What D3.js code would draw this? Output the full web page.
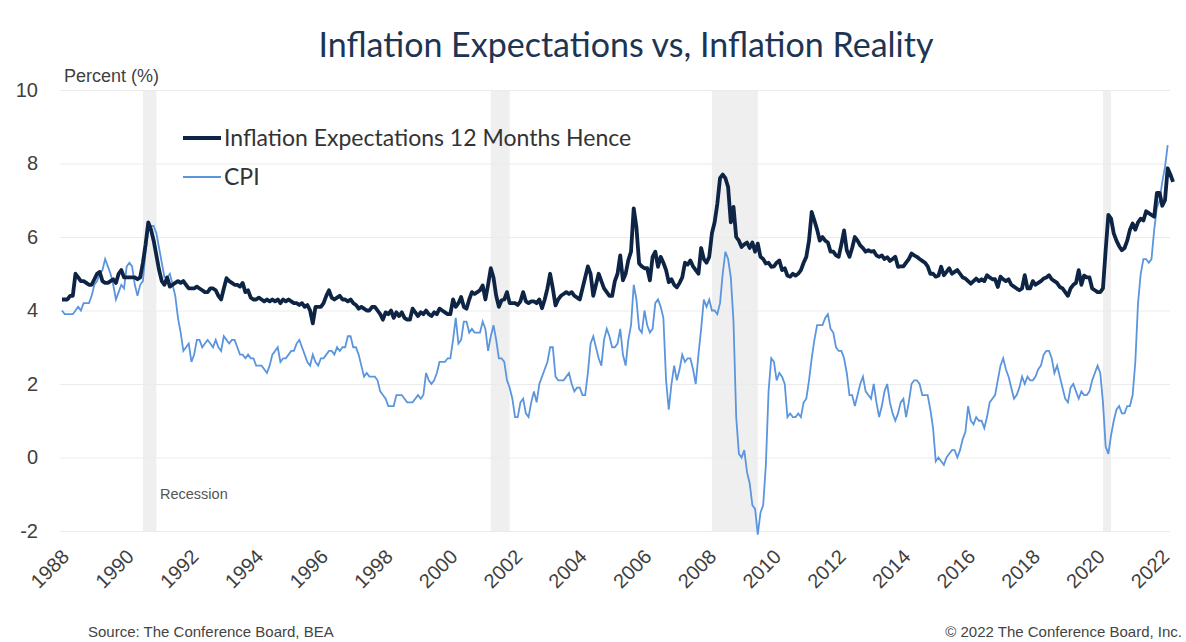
<!DOCTYPE html>
<html>
<head>
<meta charset="utf-8">
<script src="https://cdn.jsdelivr.net/npm/d3@7"></script>
<style>
  body { margin: 0; background: #fff; }
  svg { display: block; }
</style>
</head>
<body>
<svg id="main" width="1186" height="642"></svg>
<script>
// monthly series, first value = January 1988
const startYear = 1988;

const expectations = [
  4.3, 4.3, 4.3, 4.4, 4.4, 5.0, 4.9, 4.8, 4.8, 4.75, 4.7, 4.7,     // 1988
  4.85, 5.0, 5.05, 4.8, 4.75, 4.75, 4.8, 4.85, 4.75, 5.0, 5.1, 4.9, // 1989
  4.9, 4.9, 4.9, 4.9, 4.85, 4.9, 5.3, 5.8, 6.4, 6.2, 5.9, 5.5,      // 1990
  5.1, 4.8, 4.7, 4.9, 4.65, 4.7, 4.75, 4.8, 4.75, 4.8, 4.7, 4.6,    // 1991
  4.6, 4.6, 4.65, 4.6, 4.55, 4.5, 4.5, 4.6, 4.6, 4.55, 4.4, 4.3,    // 1992
  4.6, 4.88, 4.8, 4.75, 4.7, 4.7, 4.65, 4.75, 4.5, 4.55, 4.35, 4.3, // 1993
  4.3, 4.35, 4.3, 4.25, 4.3, 4.25, 4.3, 4.25, 4.3, 4.2, 4.3, 4.25,  // 1994
  4.3, 4.25, 4.2, 4.2, 4.15, 4.2, 4.1, 4.15, 4.0, 3.65, 4.1, 4.1,   // 1995
  4.1, 4.2, 4.4, 4.55, 4.35, 4.3, 4.35, 4.4, 4.3, 4.3, 4.25, 4.3,   // 1996
  4.2, 4.15, 4.05, 4.1, 4.05, 4.0, 4.0, 4.1, 4.1, 4.0, 3.9, 3.75,   // 1997
  3.95, 3.9, 4.0, 3.8, 3.95, 3.85, 3.95, 3.8, 3.75, 3.75, 4.05, 3.95, // 1998
  3.85, 3.95, 3.9, 4.0, 3.9, 3.85, 3.95, 3.9, 4.05, 4.0, 3.95, 3.9, // 1999
  3.9, 4.3, 4.1, 4.2, 4.37, 4.1, 4.05, 4.3, 4.5, 4.45, 4.5, 4.55,   // 2000
  4.68, 4.3, 4.7, 5.15, 4.9, 4.4, 4.1, 4.28, 4.3, 4.5, 4.2, 4.2,    // 2001
  4.2, 4.15, 4.25, 4.5, 4.25, 4.2, 4.25, 4.25, 4.2, 4.3, 4.06, 4.3, // 2002
  4.6, 5.0, 4.6, 4.14, 4.3, 4.4, 4.45, 4.5, 4.45, 4.5, 4.4, 4.35,   // 2003
  4.3, 4.6, 4.9, 5.2, 5.0, 4.4, 4.7, 5.0, 4.8, 4.6, 4.5, 4.4,       // 2004
  4.4, 4.8, 5.0, 5.5, 4.82, 5.0, 5.37, 5.6, 6.78, 6.27, 5.28, 5.2,  // 2005
  5.15, 5.15, 4.82, 5.46, 5.6, 5.19, 5.46, 5.3, 5.1, 4.77, 4.85, 4.7, // 2006
  4.63, 4.75, 4.9, 5.3, 5.25, 5.36, 5.2, 5.1, 5.0, 5.7, 5.4, 5.3,   // 2007
  5.46, 6.1, 6.4, 6.9, 7.6, 7.7, 7.6, 7.36, 6.4, 6.82, 6.0, 5.9,    // 2008
  5.73, 5.8, 5.85, 5.7, 5.85, 5.6, 5.82, 5.46, 5.4, 5.28, 5.3, 5.19, // 2009
  5.2, 5.3, 5.36, 5.1, 5.15, 4.95, 4.92, 5.0, 4.95, 5.0, 5.1, 5.3,  // 2010
  5.46, 5.9, 6.68, 6.45, 6.2, 5.9, 6.0, 5.9, 5.85, 5.6, 5.6, 5.5,   // 2011
  5.46, 5.8, 6.18, 5.64, 5.46, 5.7, 6.0, 5.9, 5.77, 5.7, 5.6, 5.64, // 2012
  5.6, 5.62, 5.5, 5.46, 5.5, 5.4, 5.45, 5.35, 5.4, 5.46, 5.19, 5.2, // 2013
  5.2, 5.3, 5.4, 5.55, 5.5, 5.46, 5.4, 5.35, 5.3, 5.2, 5.0, 5.0,    // 2014
  4.92, 4.95, 5.19, 4.96, 5.05, 5.15, 5.0, 5.05, 5.1, 5.0, 4.9, 4.87, // 2015
  4.8, 4.73, 4.8, 4.87, 4.8, 4.85, 4.8, 4.96, 4.9, 4.85, 4.85, 4.64, // 2016
  4.92, 4.85, 4.8, 4.85, 4.7, 4.65, 4.6, 4.55, 4.6, 4.96, 4.6, 4.6, // 2017
  4.8, 4.7, 4.75, 4.8, 4.87, 4.9, 4.96, 4.85, 4.8, 4.75, 4.64, 4.6, // 2018
  4.5, 4.4, 4.6, 4.7, 4.75, 5.1, 4.7, 4.95, 4.9, 4.9, 4.6, 4.55,    // 2019
  4.5, 4.5, 4.6, 5.64, 6.6, 6.5, 6.1, 5.9, 5.75, 5.64, 5.7, 5.9,    // 2020
  6.2, 6.37, 6.2, 6.4, 6.5, 6.45, 6.7, 6.65, 6.6, 6.55, 7.2, 7.2,   // 2021
  6.85, 7.0, 7.87, 7.7, 7.5                                         // 2022
];

const cpi = [
  4.0, 3.9, 3.9, 3.9, 3.9, 4.0, 4.1, 4.0, 4.2, 4.2, 4.2, 4.4, // 1988
  4.7, 4.8, 5.0, 5.1, 5.4, 5.2, 5.0, 4.7, 4.3, 4.5, 4.7, 4.6, // 1989
  5.2, 5.3, 5.2, 4.7, 4.4, 4.7, 4.8, 5.6, 6.2, 6.3, 6.3, 6.1, // 1990
  5.7, 5.3, 4.9, 4.9, 5.0, 4.7, 4.4, 3.8, 3.4, 2.9, 3.0, 3.1, // 1991
  2.6, 2.8, 3.2, 3.2, 3.0, 3.1, 3.2, 3.1, 3.0, 3.2, 3.0, 2.9, // 1992
  3.3, 3.2, 3.1, 3.2, 3.2, 3.0, 2.8, 2.8, 2.7, 2.8, 2.7, 2.7, // 1993
  2.5, 2.5, 2.5, 2.4, 2.3, 2.5, 2.8, 2.9, 3.0, 2.6, 2.7, 2.7, // 1994
  2.8, 2.9, 2.9, 3.1, 3.2, 3.0, 2.8, 2.6, 2.5, 2.8, 2.6, 2.5, // 1995
  2.7, 2.7, 2.8, 2.9, 2.9, 2.8, 3.0, 2.9, 3.0, 3.0, 3.3, 3.3, // 1996
  3.0, 3.0, 2.8, 2.5, 2.2, 2.3, 2.2, 2.2, 2.2, 2.1, 1.8, 1.7, // 1997
  1.6, 1.4, 1.4, 1.4, 1.7, 1.7, 1.7, 1.6, 1.5, 1.5, 1.5, 1.6, // 1998
  1.7, 1.6, 1.7, 2.3, 2.1, 2.0, 2.1, 2.3, 2.6, 2.6, 2.6, 2.7, // 1999
  2.7, 3.2, 3.8, 3.1, 3.2, 3.7, 3.7, 3.4, 3.5, 3.4, 3.4, 3.4, // 2000
  3.7, 3.5, 2.9, 3.3, 3.6, 3.2, 2.7, 2.7, 2.6, 2.1, 1.9, 1.6, // 2001
  1.1, 1.1, 1.5, 1.6, 1.2, 1.1, 1.5, 1.8, 1.5, 2.0, 2.2, 2.4, // 2002
  2.6, 3.0, 3.0, 2.2, 2.1, 2.1, 2.1, 2.2, 2.3, 2.0, 1.8, 1.9, // 2003
  1.9, 1.7, 1.7, 2.3, 3.1, 3.3, 3.0, 2.7, 2.5, 3.2, 3.5, 3.3, // 2004
  3.0, 3.0, 3.1, 3.5, 2.8, 2.5, 3.2, 3.6, 4.7, 4.3, 3.5, 3.4, // 2005
  4.0, 3.6, 3.4, 3.5, 4.2, 4.3, 4.1, 3.8, 2.1, 1.3, 2.0, 2.5, // 2006
  2.1, 2.4, 2.8, 2.6, 2.7, 2.7, 2.4, 2.0, 2.8, 3.5, 4.3, 4.1, // 2007
  4.3, 4.0, 4.0, 3.9, 4.2, 5.0, 5.6, 5.4, 4.9, 3.7, 1.1, 0.1, // 2008
  0.0, 0.2, -0.4, -0.7, -1.3, -1.4, -2.1, -1.5, -1.3, -0.2, 1.8, 2.7, // 2009
  2.6, 2.1, 2.3, 2.2, 2.0, 1.1, 1.2, 1.1, 1.1, 1.2, 1.1, 1.5, // 2010
  1.6, 2.1, 2.7, 3.2, 3.6, 3.6, 3.6, 3.8, 3.9, 3.5, 3.4, 3.0, // 2011
  2.9, 2.9, 2.7, 2.3, 1.7, 1.7, 1.4, 1.7, 2.0, 2.2, 1.8, 1.7, // 2012
  1.6, 2.0, 1.5, 1.1, 1.4, 1.8, 2.0, 1.5, 1.2, 1.0, 1.2, 1.5, // 2013
  1.6, 1.1, 1.5, 2.0, 2.1, 2.1, 2.0, 1.7, 1.7, 1.7, 1.3, 0.8, // 2014
  -0.1, 0.0, -0.1, -0.2, 0.0, 0.1, 0.2, 0.2, 0.0, 0.2, 0.5, 0.7, // 2015
  1.4, 1.0, 0.9, 1.1, 1.0, 1.0, 0.8, 1.1, 1.5, 1.6, 1.7, 2.1, // 2016
  2.5, 2.7, 2.4, 2.2, 1.9, 1.6, 1.7, 1.9, 2.2, 2.0, 2.2, 2.1, // 2017
  2.1, 2.2, 2.4, 2.5, 2.8, 2.9, 2.9, 2.7, 2.3, 2.5, 2.2, 1.9, // 2018
  1.6, 1.5, 1.9, 2.0, 1.8, 1.6, 1.8, 1.7, 1.7, 1.8, 2.1, 2.3, // 2019
  2.5, 2.3, 1.5, 0.3, 0.1, 0.6, 1.0, 1.3, 1.4, 1.2, 1.2, 1.4, // 2020
  1.4, 1.7, 2.6, 4.2, 5.0, 5.4, 5.4, 5.3, 5.4, 6.2, 6.8, 7.0, // 2021
  7.5, 7.9, 8.5                                               // 2022
];

const recessions = [["1990-07", "1990-12"], ["2001-04", "2001-11"], ["2008-02", "2009-07"], ["2020-03", "2020-06"]];
const yearTicks = [1988, 1990, 1992, 1994, 1996, 1998, 2000, 2002, 2004, 2006, 2008, 2010, 2012, 2014, 2016, 2018, 2020, 2022];
const valueTicks = [-2, 0, 2, 4, 6, 8, 10];
const seriesNames = ["Inflation Expectations 12 Months Hence", "CPI"];

const svg = d3.select("svg#main");
const plotLeft = 62, plotRight = 1170, plotTop = 90, plotBottom = 531;

const x = d3.scaleLinear().domain([1988, 2022.3]).range([plotLeft, 1172]);
const y = d3.scaleLinear().domain([-2, 10]).range([plotBottom, plotTop]);

const monthToYear = s => +s.slice(0, 4) + (+s.slice(5, 7) - 1) / 12;

// title
svg.append("text")
  .attr("x", 626).attr("y", 57)
  .attr("text-anchor", "middle")
  .style("font-family", "Lato, 'Open Sans', sans-serif")
  .style("font-size", "34px")
  .style("fill", "#1d3553")
  .text("Inflation Expectations vs, Inflation Reality");

// recession bands
svg.append("g").selectAll("rect")
  .data(recessions)
  .enter().append("rect")
  .attr("x", d => x(monthToYear(d[0])))
  .attr("width", d => x(monthToYear(d[1])) - x(monthToYear(d[0])))
  .attr("y", plotTop)
  .attr("height", plotBottom - plotTop)
  .attr("fill", "#efefef");

// y axis + gridlines
const yAxis = svg.append("g")
  .attr("transform", `translate(${plotLeft - 2},0)`)
  .call(d3.axisLeft(y).tickValues(valueTicks).tickSize(-(plotRight - plotLeft + 2)).tickPadding(22).tickFormat(d => String(d)));
yAxis.select(".domain").remove();
yAxis.selectAll(".tick line").attr("stroke", "#ebebeb").attr("stroke-width", 1.2);
yAxis.selectAll(".tick text")
  .style("font-family", "'Liberation Sans', Arial, sans-serif")
  .style("font-size", "20px")
  .style("fill", "#3f3f3f");

svg.append("text")
  .attr("x", 64).attr("y", 82)
  .style("font-family", "'Liberation Sans', Arial, sans-serif")
  .style("font-size", "18px")
  .style("fill", "#3f3f3f")
  .text("Percent (%)");

// x axis
const xAxis = svg.append("g")
  .attr("transform", `translate(0,${plotBottom})`)
  .call(d3.axisBottom(x).tickValues(yearTicks).tickSize(0).tickFormat(d3.format("d")));
xAxis.select(".domain").remove();
xAxis.selectAll(".tick text")
  .attr("text-anchor", "end")
  .attr("transform", "translate(3,22) rotate(-45)")
  .attr("dy", "0.35em")
  .attr("y", 0)
  .style("font-family", "'Liberation Sans', Arial, sans-serif")
  .style("font-size", "20px")
  .style("fill", "#3f3f3f");

svg.append("text")
  .attr("x", 160).attr("y", 499)
  .style("font-family", "'Liberation Sans', Arial, sans-serif")
  .style("font-size", "14.5px")
  .style("fill", "#555")
  .text("Recession");

// lines
const line = d3.line()
  .x((d, i) => x(startYear + i / 12))
  .y(d => y(d));

svg.append("path")
  .datum(cpi)
  .attr("d", line)
  .attr("fill", "none")
  .style("stroke", "#5b95de")
  .style("stroke-width", "1.8px");

svg.append("path")
  .datum(expectations)
  .attr("d", line)
  .attr("fill", "none")
  .style("stroke", "#0e2444")
  .style("stroke-width", "3.8px")
  .style("stroke-linejoin", "round");

// legend
const legend = svg.append("g")
  .selectAll("g")
  .data([{ name: seriesNames[0], color: "#0e2444", w: 4 }, { name: seriesNames[1], color: "#5b95de", w: 2 }])
  .enter().append("g")
  .attr("transform", (d, i) => `translate(183,${138 + i * 39})`);

legend.append("line")
  .attr("x1", 0).attr("x2", 38)
  .attr("stroke", d => d.color)
  .attr("stroke-width", d => d.w);

legend.append("text")
  .attr("x", 41).attr("dy", "0.35em")
  .style("font-family", "Lato, 'Open Sans', sans-serif")
  .style("font-size", "23px")
  .style("fill", "#333")
  .text(d => d.name);

// footer
svg.append("text")
  .attr("x", 88).attr("y", 637)
  .style("font-family", "'Liberation Sans', Arial, sans-serif")
  .style("font-size", "15px")
  .style("fill", "#444")
  .text("Source: The Conference Board, BEA");

svg.append("text")
  .attr("x", 1182).attr("y", 637)
  .attr("text-anchor", "end")
  .style("font-family", "'Liberation Sans', Arial, sans-serif")
  .style("font-size", "15px")
  .style("fill", "#444")
  .text("© 2022 The Conference Board, Inc.");
</script>
</body>
</html>
